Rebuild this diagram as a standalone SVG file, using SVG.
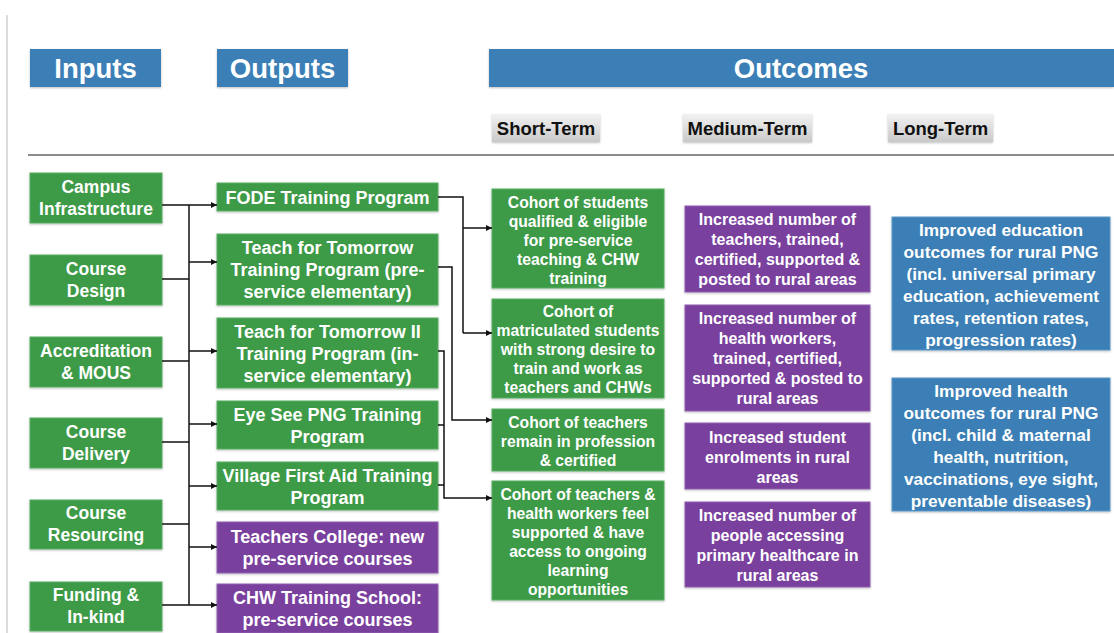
<svg xmlns="http://www.w3.org/2000/svg" width="1114" height="633" viewBox="0 0 1114 633">
  <defs>
    <linearGradient id="greyTab" x1="0" y1="0" x2="0" y2="1">
      <stop offset="0" stop-color="#f2f2f2"/>
      <stop offset="1" stop-color="#c9c9c9"/>
    </linearGradient>
    <filter id="soft" x="-5%" y="-5%" width="110%" height="120%">
      <feDropShadow dx="0" dy="1" stdDeviation="0.8" flood-color="#000" flood-opacity="0.25"/>
    </filter>
    <marker id="arrow" viewBox="0 0 10 10" refX="10" refY="5" markerWidth="6" markerHeight="6" markerUnits="userSpaceOnUse" orient="auto">
      <path d="M0,0 L10,5 L0,10 z" fill="#111"/>
    </marker>
    <style>
      text { font-family: "Liberation Sans", Arial, sans-serif; font-weight: bold; text-anchor: middle; }
      .hdr { fill: #3b7fb6; filter: url(#soft); }
      .hdr-t { fill: #fff; font-size: 27.5px; }
      .tab { fill: url(#greyTab); filter: url(#soft); }
      .tab-t { fill: #111; font-size: 18.5px; }
      .green { fill: #3d9a47; stroke: #5aad62; stroke-width: 1; filter: url(#soft); }
      .purple { fill: #7a409e; stroke: #9060b0; stroke-width: 1; filter: url(#soft); }
      .blue { fill: #3b7fb6; stroke: #5c97c6; stroke-width: 1; filter: url(#soft); }
      .t-in { fill: #fff; font-size: 17.5px; }
      .t-out { fill: #fff; font-size: 18px; }
      .t-st { fill: #fff; font-size: 15.7px; }
      .t-mt { fill: #fff; font-size: 16px; }
      .t-lt { fill: #fff; font-size: 17.3px; }
      .wire { fill: none; stroke: #111; stroke-width: 1.5; }
      .arr { fill: none; stroke: #111; stroke-width: 1.5; marker-end: url(#arrow); }
    </style>
  </defs>

  <rect width="1114" height="633" fill="#fff"/>

  <!-- page frame lines -->
  <line x1="7" y1="15" x2="7" y2="633" stroke="#d0d0d0" stroke-width="1.5"/>
  <line x1="28" y1="155" x2="1114" y2="155" stroke="#666" stroke-width="1.5"/>

  <!-- column headers -->
  <g id="hdr-inputs">
    <rect class="hdr" x="30" y="49" width="131" height="38"/>
    <text class="hdr-t" x="95.5" y="78">Inputs</text>
  </g>
  <g id="hdr-outputs">
    <rect class="hdr" x="217" y="49" width="131" height="38"/>
    <text class="hdr-t" x="282.5" y="78">Outputs</text>
  </g>
  <g id="hdr-outcomes">
    <rect class="hdr" x="489" y="49" width="625" height="38"/>
    <text class="hdr-t" x="801" y="78">Outcomes</text>
  </g>
  <g id="tab-short">
    <rect class="tab" x="492" y="114" width="108" height="28"/>
    <text class="tab-t" x="546" y="134.5">Short-Term</text>
  </g>
  <g id="tab-medium">
    <rect class="tab" x="683" y="114" width="129" height="28"/>
    <text class="tab-t" x="747.5" y="134.5">Medium-Term</text>
  </g>
  <g id="tab-long">
    <rect class="tab" x="888" y="114" width="105" height="28"/>
    <text class="tab-t" x="940.5" y="134.5">Long-Term</text>
  </g>

  <!-- inputs -->
  <g id="in-campus">
    <rect class="green" x="30" y="173" width="132" height="50"/>
    <text class="t-in" x="96" y="193">Campus</text>
    <text class="t-in" x="96" y="215">Infrastructure</text>
  </g>
  <g id="in-design">
    <rect class="green" x="30" y="255" width="132" height="50"/>
    <text class="t-in" x="96" y="275">Course</text>
    <text class="t-in" x="96" y="297">Design</text>
  </g>
  <g id="in-accreditation">
    <rect class="green" x="30" y="337" width="132" height="50"/>
    <text class="t-in" x="96" y="357">Accreditation</text>
    <text class="t-in" x="96" y="379">&amp; MOUS</text>
  </g>
  <g id="in-delivery">
    <rect class="green" x="30" y="418" width="132" height="50"/>
    <text class="t-in" x="96" y="438">Course</text>
    <text class="t-in" x="96" y="460">Delivery</text>
  </g>
  <g id="in-resourcing">
    <rect class="green" x="30" y="500" width="132" height="49"/>
    <text class="t-in" x="96" y="519">Course</text>
    <text class="t-in" x="96" y="541">Resourcing</text>
  </g>
  <g id="in-funding">
    <rect class="green" x="30" y="582" width="132" height="49"/>
    <text class="t-in" x="96" y="601">Funding &amp;</text>
    <text class="t-in" x="96" y="623">In-kind</text>
  </g>

  <!-- outputs -->
  <g id="out-fode">
    <rect class="green" x="217" y="183" width="221" height="28"/>
    <text class="t-out" x="327.5" y="203.5">FODE Training Program</text>
  </g>
  <g id="out-tft">
    <rect class="green" x="217" y="234" width="221" height="71"/>
    <text class="t-out" x="327.5" y="254">Teach for Tomorrow</text>
    <text class="t-out" x="327.5" y="276">Training Program (pre-</text>
    <text class="t-out" x="327.5" y="298">service elementary)</text>
  </g>
  <g id="out-tft2">
    <rect class="green" x="217" y="318" width="221" height="70"/>
    <text class="t-out" x="327.5" y="337.5">Teach for Tomorrow II</text>
    <text class="t-out" x="327.5" y="359.5">Training Program (in-</text>
    <text class="t-out" x="327.5" y="381.5">service elementary)</text>
  </g>
  <g id="out-eyesee">
    <rect class="green" x="217" y="401" width="221" height="48"/>
    <text class="t-out" x="327.5" y="420.5">Eye See PNG Training</text>
    <text class="t-out" x="327.5" y="442.5">Program</text>
  </g>
  <g id="out-firstaid">
    <rect class="green" x="217" y="462" width="221" height="48"/>
    <text class="t-out" x="327.5" y="481.5">Village First Aid Training</text>
    <text class="t-out" x="327.5" y="503.5">Program</text>
  </g>
  <g id="out-teachers-college">
    <rect class="purple" x="217" y="522" width="221" height="51"/>
    <text class="t-out" x="327.5" y="543">Teachers College: new</text>
    <text class="t-out" x="327.5" y="565">pre-service courses</text>
  </g>
  <g id="out-chw-school">
    <rect class="purple" x="217" y="584" width="221" height="49"/>
    <text class="t-out" x="327.5" y="604">CHW Training School:</text>
    <text class="t-out" x="327.5" y="626">pre-service courses</text>
  </g>

  <!-- short-term outcomes -->
  <g id="st-qualified">
    <rect class="green" x="492" y="189" width="172" height="99"/>
    <text class="t-st" x="578" y="208">Cohort of students</text>
    <text class="t-st" x="578" y="227">qualified &amp; eligible</text>
    <text class="t-st" x="578" y="246">for pre-service</text>
    <text class="t-st" x="578" y="265">teaching &amp; CHW</text>
    <text class="t-st" x="578" y="284">training</text>
  </g>
  <g id="st-matriculated">
    <rect class="green" x="492" y="299" width="172" height="99"/>
    <text class="t-st" x="578" y="317">Cohort of</text>
    <text class="t-st" x="578" y="336">matriculated students</text>
    <text class="t-st" x="578" y="355">with strong desire to</text>
    <text class="t-st" x="578" y="374">train and work as</text>
    <text class="t-st" x="578" y="393">teachers and CHWs</text>
  </g>
  <g id="st-remain">
    <rect class="green" x="492" y="409" width="172" height="62"/>
    <text class="t-st" x="578" y="428">Cohort of teachers</text>
    <text class="t-st" x="578" y="447">remain in profession</text>
    <text class="t-st" x="578" y="466">&amp; certified</text>
  </g>
  <g id="st-supported">
    <rect class="green" x="492" y="481" width="172" height="119"/>
    <text class="t-st" x="578" y="500">Cohort of teachers &amp;</text>
    <text class="t-st" x="578" y="519">health workers feel</text>
    <text class="t-st" x="578" y="538">supported &amp; have</text>
    <text class="t-st" x="578" y="557">access to ongoing</text>
    <text class="t-st" x="578" y="576">learning</text>
    <text class="t-st" x="578" y="595">opportunities</text>
  </g>

  <!-- medium-term outcomes -->
  <g id="mt-teachers">
    <rect class="purple" x="685" y="206" width="185" height="86"/>
    <text class="t-mt" x="777.5" y="225">Increased number of</text>
    <text class="t-mt" x="777.5" y="245">teachers, trained,</text>
    <text class="t-mt" x="777.5" y="265">certified, supported &amp;</text>
    <text class="t-mt" x="777.5" y="285">posted to rural areas</text>
  </g>
  <g id="mt-health-workers">
    <rect class="purple" x="685" y="305" width="185" height="106"/>
    <text class="t-mt" x="777.5" y="324">Increased number of</text>
    <text class="t-mt" x="777.5" y="344">health workers,</text>
    <text class="t-mt" x="777.5" y="364">trained, certified,</text>
    <text class="t-mt" x="777.5" y="384">supported &amp; posted to</text>
    <text class="t-mt" x="777.5" y="404">rural areas</text>
  </g>
  <g id="mt-enrolments">
    <rect class="purple" x="685" y="423" width="185" height="66"/>
    <text class="t-mt" x="777.5" y="443">Increased student</text>
    <text class="t-mt" x="777.5" y="463">enrolments in rural</text>
    <text class="t-mt" x="777.5" y="483">areas</text>
  </g>
  <g id="mt-healthcare">
    <rect class="purple" x="685" y="502" width="185" height="85"/>
    <text class="t-mt" x="777.5" y="521">Increased number of</text>
    <text class="t-mt" x="777.5" y="541">people accessing</text>
    <text class="t-mt" x="777.5" y="561">primary healthcare in</text>
    <text class="t-mt" x="777.5" y="581">rural areas</text>
  </g>

  <!-- long-term outcomes -->
  <g id="lt-education">
    <rect class="blue" x="892" y="217" width="218" height="133"/>
    <text class="t-lt" x="1001" y="236">Improved education</text>
    <text class="t-lt" x="1001" y="258">outcomes for rural PNG</text>
    <text class="t-lt" x="1001" y="280">(incl. universal primary</text>
    <text class="t-lt" x="1001" y="302">education, achievement</text>
    <text class="t-lt" x="1001" y="324">rates, retention rates,</text>
    <text class="t-lt" x="1001" y="346">progression rates)</text>
  </g>
  <g id="lt-health">
    <rect class="blue" x="892" y="378" width="218" height="133"/>
    <text class="t-lt" x="1001" y="397">Improved health</text>
    <text class="t-lt" x="1001" y="419">outcomes for rural PNG</text>
    <text class="t-lt" x="1001" y="441">(incl. child &amp; maternal</text>
    <text class="t-lt" x="1001" y="463">health, nutrition,</text>
    <text class="t-lt" x="1001" y="485">vaccinations, eye sight,</text>
    <text class="t-lt" x="1001" y="507">preventable diseases)</text>
  </g>

  <!-- connectors -->
  <g id="connectors">
    <!-- inputs feed a shared bus -->
    <path class="wire" d="M162,205 H189 M162,279 H189 M162,361 H189 M162,442 H189 M162,524 H189 M162,605 H189 M189,205 V605"/>
    <!-- bus to each output -->
    <path class="arr" d="M189,205 H217"/>
    <path class="arr" d="M189,262 H217"/>
    <path class="arr" d="M189,351 H217"/>
    <path class="arr" d="M189,424 H217"/>
    <path class="arr" d="M189,486 H217"/>
    <path class="arr" d="M189,547 H217"/>
    <path class="arr" d="M189,605 H217"/>
    <!-- FODE to first two cohorts -->
    <path class="wire" d="M438,197 H463 V333"/>
    <path class="arr" d="M463,228 H492"/>
    <path class="arr" d="M463,333 H492"/>
    <!-- pre-service program to teacher retention -->
    <path class="arr" d="M438,267 H452 V420 H492"/>
    <!-- in-service and health programs to ongoing support -->
    <path class="wire" d="M438,425 H444 M438,485 H444"/>
    <path class="arr" d="M438,351 H444 V498 H492"/>
  </g>
</svg>
